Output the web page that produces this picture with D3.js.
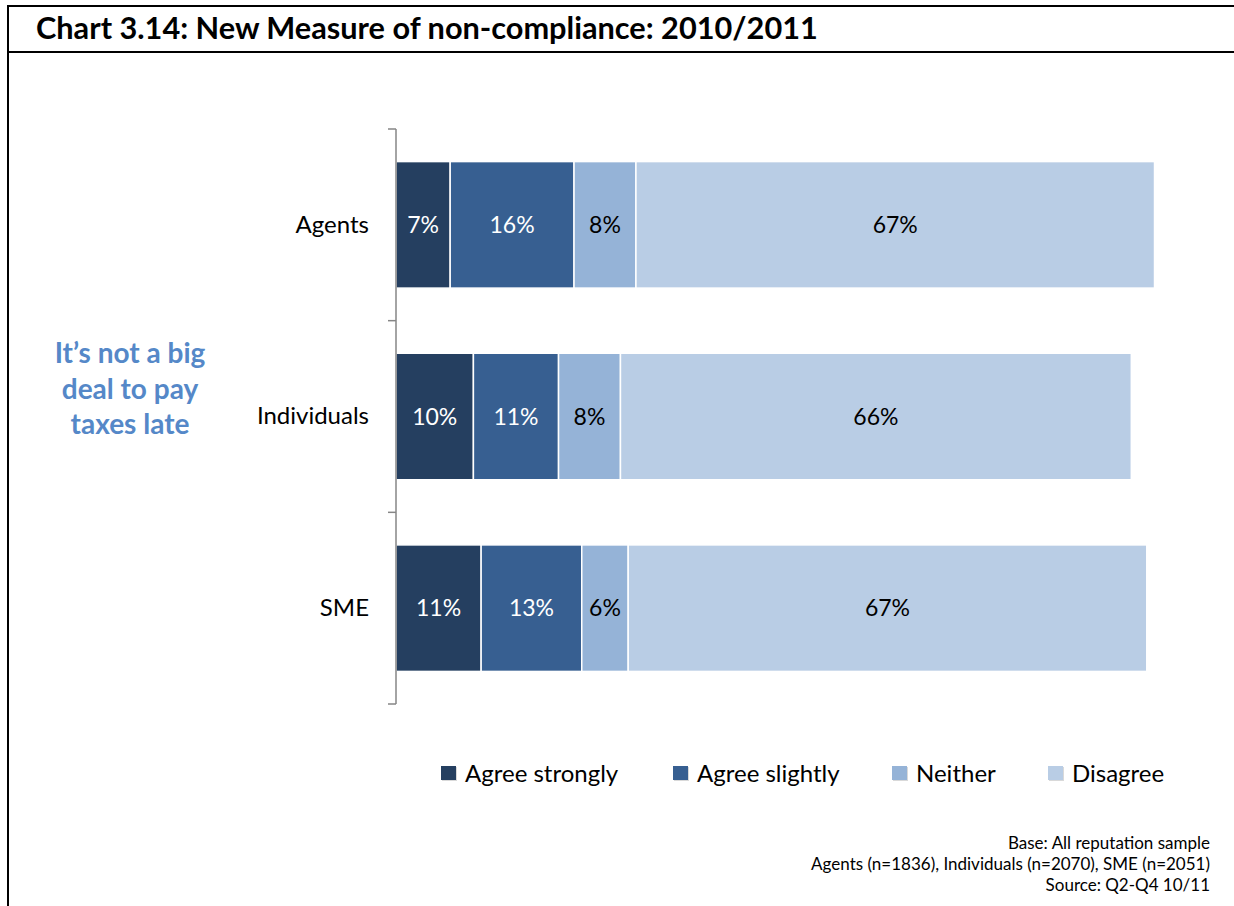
<!DOCTYPE html>
<html>
<head>
<meta charset="utf-8">
<script src="https://cdn.jsdelivr.net/npm/d3@7"></script>
<style>
  html, body { margin: 0; padding: 0; background: #fff; }
  svg { display: block; font-family: Lato, "Open Sans", sans-serif; }
</style>
</head>
<body>
<svg id="chart" width="1234" height="906"></svg>
<script>
// Survey groups and response shares (%)
const categories = ["Agents", "Individuals", "SME"];
const seriesNames = ["Agree strongly", "Agree slightly", "Neither", "Disagree"];
const agreeStrongly = [7, 10, 11];
const agreeSlightly = [16, 11, 13];
const neither = [8, 8, 6];
const disagree = [67, 66, 67];
const seriesColors = ["#253F60", "#375F91", "#95B3D7", "#B9CDE5"];
const labelColors = ["#ffffff", "#ffffff", "#000000", "#000000"];
const footnotes = [
  "Base: All reputation sample",
  "Agents (n=1836), Individuals (n=2070), SME (n=2051)",
  "Source: Q2-Q4 10/11"
];

const svg = d3.select("#chart");

// Frame and title band
svg.append("line").attr("x1", 8).attr("x2", 1234).attr("y1", 6).attr("y2", 6)
  .attr("stroke", "#000").attr("stroke-width", 2);
svg.append("line").attr("x1", 8).attr("x2", 1234).attr("y1", 52).attr("y2", 52)
  .attr("stroke", "#000").attr("stroke-width", 2);
svg.append("line").attr("x1", 8).attr("x2", 8).attr("y1", 5).attr("y2", 906)
  .attr("stroke", "#000").attr("stroke-width", 2);
svg.append("text").attr("x", 36).attr("y", 39)
  .attr("font-size", 30.7).attr("font-weight", "bold").attr("fill", "#000")
  .text("Chart 3.14: New Measure of non-compliance: 2010/2011");

// Side statement
const sideLines = ["It\u2019s not a big", "deal to pay", "taxes late"];
svg.append("g").selectAll("text").data(sideLines).join("text")
  .attr("x", 130).attr("y", (d, i) => 363 + i * 35.5)
  .attr("text-anchor", "middle").attr("font-size", 28).attr("font-weight", "bold")
  .attr("fill", "#5588C8").text(d => d);

// Scales
const x = d3.scaleLinear().domain([0, 100]).range([396, 1170]);
const y = d3.scaleBand().domain(categories).range([129, 704]).paddingInner(0.34).paddingOuter(0.17);

const rows = categories.map((c, i) => {
  const vals = [agreeStrongly[i], agreeSlightly[i], neither[i], disagree[i]];
  let acc = 0;
  return vals.map((v, k) => { const s = { cat: c, k, v, x0: acc, x1: acc + v }; acc += v; return s; });
});

const bars = svg.append("g");
rows.forEach(row => {
  const g = bars.append("g");
  g.selectAll("rect").data(row).join("rect")
    .attr("x", d => x(d.x0)).attr("width", d => x(d.x1) - x(d.x0))
    .attr("y", d => y(d.cat)).attr("height", y.bandwidth())
    .attr("fill", d => seriesColors[d.k])
    .attr("stroke", "#fff").attr("stroke-width", 1.5);
  g.selectAll("text").data(row).join("text")
    .attr("x", d => (x(d.x0) + x(d.x1)) / 2)
    .attr("y", d => y(d.cat) + y.bandwidth() / 2 + 8)
    .attr("text-anchor", "middle").attr("font-size", 23)
    .attr("fill", d => labelColors[d.k]).text(d => d.v + "%");
});

// Category axis
const yAxis = svg.append("g").attr("transform", "translate(396,0)")
  .call(d3.axisLeft(y).tickSize(0).tickPadding(27));
yAxis.select(".domain").remove();
yAxis.selectAll("text").attr("font-size", 24).attr("fill", "#000")
  .attr("font-family", "Lato, 'Open Sans', sans-serif");
const axisColor = "#868686";
svg.append("line").attr("x1", 396).attr("x2", 396).attr("y1", 129).attr("y2", 704)
  .attr("stroke", axisColor).attr("stroke-width", 1.5);
const boundaries = categories.map(c => y(c) - y.step() * y.paddingInner() / 2)
  .concat([y(categories[categories.length - 1]) + y.bandwidth() + y.step() * y.paddingInner() / 2]);
svg.append("g").selectAll("line").data(boundaries).join("line")
  .attr("x1", 388).attr("x2", 396).attr("y1", d => d).attr("y2", d => d)
  .attr("stroke", axisColor).attr("stroke-width", 1.5);

// Legend
const legendX = [441, 673, 892, 1048];
const legend = svg.append("g").selectAll("g").data(seriesNames).join("g")
  .attr("transform", (d, i) => `translate(${legendX[i]},766)`);
legend.append("rect").attr("x", 1).attr("y", 1).attr("width", 15).attr("height", 14).attr("fill", "#d9d9d9");
legend.append("rect").attr("width", 15).attr("height", 14).attr("fill", (d, i) => seriesColors[i]);
legend.append("text").attr("x", 24).attr("y", 16).attr("font-size", 24).attr("fill", "#000").text(d => d);

// Footnotes
svg.append("g").selectAll("text").data(footnotes).join("text")
  .attr("x", 1210).attr("y", (d, i) => 849 + i * 21)
  .attr("text-anchor", "end").attr("font-size", 17).attr("fill", "#000").text(d => d);
</script>
</body>
</html>
